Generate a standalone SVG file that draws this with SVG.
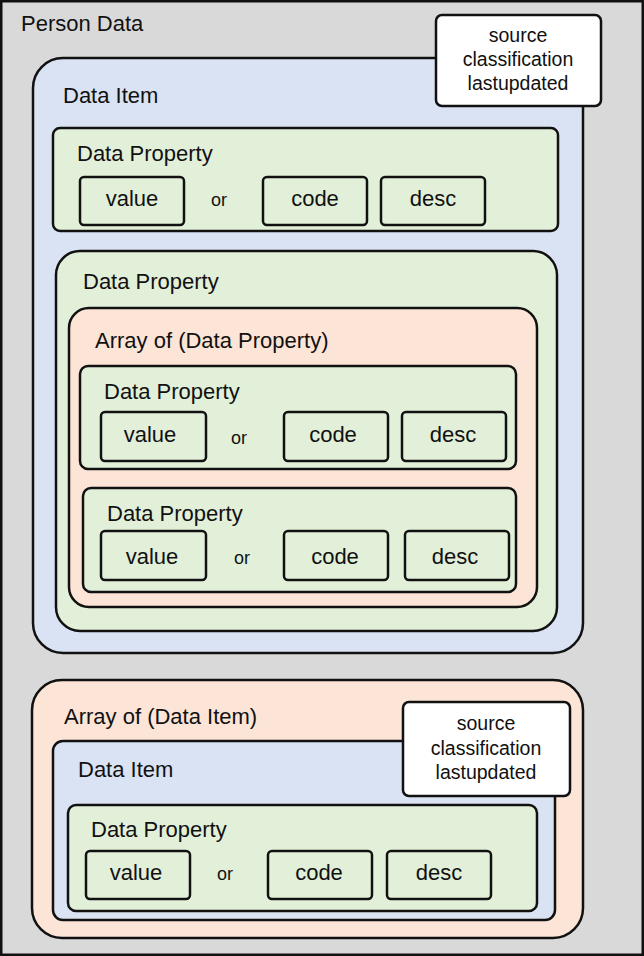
<svg xmlns="http://www.w3.org/2000/svg" width="644" height="956" viewBox="0 0 644 956">
<style>
text{font-family:"Liberation Sans",Arial,sans-serif;fill:#111}
.lbl{font-size:22px}
.f{font-size:22px;text-anchor:middle}
.o{font-size:18px;text-anchor:middle}
.s{font-size:19.5px;text-anchor:middle}
.bg{fill:#d9d9d9;stroke:#111;stroke-width:2.5}
.blue{fill:#dae3f3;stroke:#111;stroke-width:2.5}
.green{fill:#e2f0d9;stroke:#111;stroke-width:2.5}
.peach{fill:#fce4d6;stroke:#111;stroke-width:2.5}
.white{fill:#fff;stroke:#111;stroke-width:2.5}
.fld{fill:#e2f0d9;stroke:#111;stroke-width:2.5}
</style>
<g id="person-data">
<rect class="bg" x="1.25" y="1.25" width="641.5" height="953.5"/>
<text class="lbl" x="21" y="31">Person Data</text>
</g>
<g id="data-item-1">
<rect class="blue" x="33" y="58" width="550" height="595" rx="30"/>
<text class="lbl" x="63" y="103">Data Item</text>
</g>
<g id="meta-1">
<rect class="white" x="436" y="15" width="165" height="91" rx="6"/>
<text class="s" x="518" y="42">source</text>
<text class="s" x="518" y="66">classification</text>
<text class="s" x="518" y="90">lastupdated</text>
</g>
<g id="dp-1">
<rect class="green" x="53" y="128" width="505" height="103" rx="7"/>
<text class="lbl" x="77" y="161">Data Property</text>
<rect class="fld" x="80" y="177" width="104" height="48" rx="4"/>
<text class="f" x="132" y="206">value</text>
<text class="o" x="219" y="206">or</text>
<rect class="fld" x="263" y="177" width="104" height="48" rx="4"/>
<text class="f" x="315" y="206">code</text>
<rect class="fld" x="381" y="177" width="104" height="48" rx="4"/>
<text class="f" x="433" y="206">desc</text>
</g>
<g id="dp-2">
<rect class="green" x="56" y="251" width="501" height="380" rx="24"/>
<text class="lbl" x="83" y="289">Data Property</text>
</g>
<g id="array-dp">
<rect class="peach" x="69" y="308" width="468" height="299" rx="20"/>
<text class="lbl" x="95" y="348">Array of (Data Property)</text>
</g>
<g id="dp-2a">
<rect class="green" x="80" y="366" width="436" height="103" rx="8"/>
<text class="lbl" x="104" y="399">Data Property</text>
<rect class="fld" x="101" y="412" width="105" height="49" rx="4"/>
<text class="f" x="150" y="442">value</text>
<text class="o" x="239" y="444">or</text>
<rect class="fld" x="284" y="412" width="104" height="49" rx="4"/>
<text class="f" x="333" y="442">code</text>
<rect class="fld" x="402" y="412" width="104" height="49" rx="4"/>
<text class="f" x="453" y="442">desc</text>
</g>
<g id="dp-2b">
<rect class="green" x="83" y="488" width="433" height="104" rx="8"/>
<text class="lbl" x="107" y="521">Data Property</text>
<rect class="fld" x="101" y="531" width="105" height="49" rx="4"/>
<text class="f" x="152" y="564">value</text>
<text class="o" x="242" y="564">or</text>
<rect class="fld" x="284" y="531" width="104" height="49" rx="4"/>
<text class="f" x="335" y="564">code</text>
<rect class="fld" x="405" y="531" width="104" height="49" rx="4"/>
<text class="f" x="455" y="564">desc</text>
</g>
<g id="array-di">
<rect class="peach" x="32" y="680" width="551" height="258" rx="30"/>
<text class="lbl" x="64" y="724">Array of (Data Item)</text>
</g>
<g id="data-item-2">
<rect class="blue" x="53" y="741" width="502" height="179" rx="10"/>
<text class="lbl" x="78" y="777">Data Item</text>
</g>
<g id="meta-2">
<rect class="white" x="403" y="702" width="167" height="94" rx="6"/>
<text class="s" x="486" y="730">source</text>
<text class="s" x="486" y="755">classification</text>
<text class="s" x="486" y="779">lastupdated</text>
</g>
<g id="dp-3">
<rect class="green" x="68" y="805" width="469" height="106" rx="8"/>
<text class="lbl" x="91" y="837">Data Property</text>
<rect class="fld" x="86" y="851" width="104" height="48" rx="4"/>
<text class="f" x="136" y="880">value</text>
<text class="o" x="225" y="880">or</text>
<rect class="fld" x="268" y="851" width="104" height="48" rx="4"/>
<text class="f" x="319" y="880">code</text>
<rect class="fld" x="387" y="851" width="104" height="48" rx="4"/>
<text class="f" x="439" y="880">desc</text>
</g>
<g id="connectors"/>
</svg>
